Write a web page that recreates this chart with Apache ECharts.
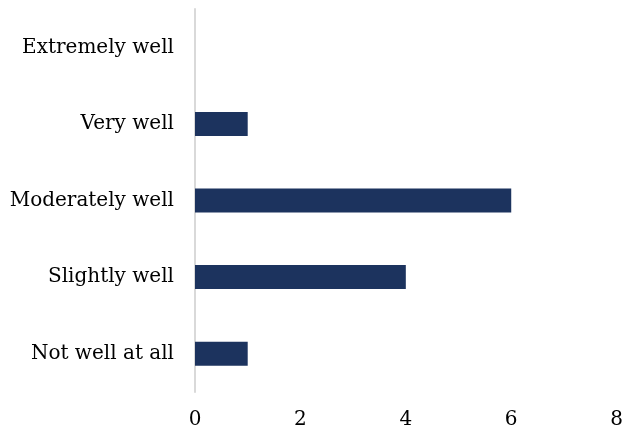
<!DOCTYPE html>
<html><head><meta charset="utf-8">
<script src="https://cdn.jsdelivr.net/npm/echarts@6/dist/echarts.min.js"></script>
<style>html,body{margin:0;padding:0;background:#fff}#c{width:626px;height:437px}</style>
</head><body><div id="c"></div>
<script>
const categories = ["Not well at all", "Slightly well", "Moderately well", "Very well", "Extremely well"];
const values = [1, 4, 6, 1, 0];
const xTicks = [0, 2, 4, 6, 8];
const font = "'DejaVu Serif', Georgia, serif";
const chart = echarts.init(document.getElementById('c'));
chart.setOption({
  animation: false,
  grid: {left: 195, right: 9, top: 9, bottom: 45, containLabel: false},
  xAxis: {
    type: 'value', min: xTicks[0], max: xTicks[xTicks.length-1], interval: 2,
    axisLine: {show: false}, axisTick: {show: false}, splitLine: {show: false},
    axisLabel: {color: '#000', fontFamily: font, fontSize: 20, margin: 18}
  },
  yAxis: {
    type: 'category', data: categories,
    axisLine: {show: true, lineStyle: {color: '#d9d9d9', width: 2}},
    axisTick: {show: false},
    axisLabel: {color: '#000', fontFamily: font, fontSize: 20, margin: 21}
  },
  series: [{
    type: 'bar', data: values, barWidth: 24,
    itemStyle: {color: '#1c335e'}
  }]
});
</script></body></html>
